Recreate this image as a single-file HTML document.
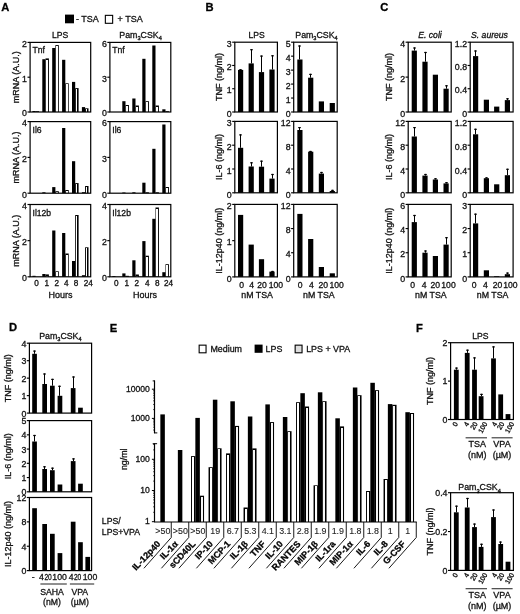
<!DOCTYPE html>
<html><head><meta charset="utf-8"><title>Figure</title>
<style>
html,body{margin:0;padding:0;background:#fff;}
body{width:520px;height:614px;overflow:hidden;}
svg{display:block;font-family:"Liberation Sans",Arial,Helvetica,sans-serif;filter:blur(0.35px);}
text{stroke:#111;stroke-width:0.3px;paint-order:stroke;}
</style></head>
<body>
<svg width="520" height="614" viewBox="0 0 520 614" fill="#111">
<rect width="520" height="614" fill="#fff"/>
<text x="1.3" y="11.3" font-size="11.2" font-weight="bold" fill="#000">A</text>
<text x="205.4" y="11.3" font-size="11.2" font-weight="bold" fill="#000">B</text>
<text x="380.3" y="11.3" font-size="11.2" font-weight="bold" fill="#000">C</text>
<text x="9" y="331.4" font-size="11.2" font-weight="bold" fill="#000">D</text>
<text x="109.8" y="331.6" font-size="11.2" font-weight="bold" fill="#000">E</text>
<text x="416" y="331.6" font-size="11.2" font-weight="bold" fill="#000">F</text>
<rect x="65" y="14.6" width="9" height="8.7" fill="#000"/>
<text x="76" y="22.4" font-size="9">- TSA</text>
<rect x="105.35" y="15.35" width="7.3" height="7.95" fill="#fff" stroke="#000" stroke-width="1.1"/>
<text x="117.6" y="22.4" font-size="9">+ TSA</text>
<text x="60.2" y="37.9" font-size="8.6" text-anchor="middle">LPS</text>
<text x="140.6" y="37.8" font-size="8.8" text-anchor="middle">Pam<tspan font-size="5.63" dy="2.3">3</tspan><tspan dy="-2.3">CSK</tspan><tspan font-size="5.63" dy="2.3">4</tspan></text>
<rect x="32.4" y="111" width="3.2" height="1" fill="#000"/>
<rect x="35.6" y="111.2" width="3.4" height="0.8" fill="#000"/>
<rect x="42.3" y="59.2" width="3.2" height="52.8" fill="#000"/>
<rect x="45.5" y="58.4" width="3.4" height="53.6" fill="#000"/>
<rect x="46" y="60" width="2" height="52" fill="#fff"/>
<rect x="52.2" y="48" width="3.2" height="64" fill="#000"/>
<rect x="55.4" y="45.1" width="3.4" height="66.9" fill="#000"/>
<rect x="56" y="46" width="2" height="66" fill="#fff"/>
<rect x="62.1" y="59.8" width="3.2" height="52.2" fill="#000"/>
<rect x="65.3" y="83.3" width="3.4" height="28.7" fill="#000"/>
<rect x="66" y="84" width="2" height="28" fill="#fff"/>
<rect x="72" y="81.9" width="3.2" height="30.1" fill="#000"/>
<rect x="75.2" y="88.1" width="3.4" height="23.9" fill="#000"/>
<rect x="76" y="89" width="1" height="23" fill="#fff"/>
<rect x="81.9" y="107.1" width="3.2" height="4.9" fill="#000"/>
<rect x="85.1" y="108.3" width="3.4" height="3.7" fill="#000"/>
<rect x="86" y="109" width="1" height="3" fill="#fff"/>
<rect x="30.1" y="42.4" width="60.6" height="69.6" fill="none" stroke="#000" stroke-width="1.2"/>
<line x1="27.5" y1="112" x2="30.1" y2="112" stroke="#000" stroke-width="1.15"/>
<text x="27" y="116.35" font-size="8.8" text-anchor="end">0</text>
<line x1="27.5" y1="77.2" x2="30.1" y2="77.2" stroke="#000" stroke-width="1.15"/>
<text x="27" y="81.55" font-size="8.8" text-anchor="end">1</text>
<line x1="27.5" y1="42.4" x2="30.1" y2="42.4" stroke="#000" stroke-width="1.15"/>
<text x="27" y="46.75" font-size="8.8" text-anchor="end">2</text>
<text x="32.5" y="52.6" font-size="8.6">Tnf</text>
<rect x="122.3" y="101.2" width="3.2" height="10.8" fill="#000"/>
<rect x="125.5" y="105" width="3.4" height="7" fill="#000"/>
<rect x="126" y="106" width="2" height="6" fill="#fff"/>
<rect x="132.3" y="98.5" width="3.2" height="13.5" fill="#000"/>
<rect x="135.5" y="105.5" width="3.4" height="6.5" fill="#000"/>
<rect x="136" y="107" width="2" height="5" fill="#fff"/>
<rect x="142.3" y="58.8" width="3.2" height="53.2" fill="#000"/>
<rect x="145.5" y="101.2" width="3.4" height="10.8" fill="#000"/>
<rect x="146" y="102" width="2" height="10" fill="#fff"/>
<rect x="152.3" y="45.5" width="3.2" height="66.5" fill="#000"/>
<rect x="155.5" y="105.5" width="3.4" height="6.5" fill="#000"/>
<rect x="156" y="107" width="2" height="5" fill="#fff"/>
<rect x="162.3" y="109.3" width="3.2" height="2.7" fill="#000"/>
<rect x="165.5" y="111.2" width="3.4" height="0.8" fill="#000"/>
<rect x="109.9" y="42.4" width="60.9" height="69.6" fill="none" stroke="#000" stroke-width="1.2"/>
<line x1="107.3" y1="112" x2="109.9" y2="112" stroke="#000" stroke-width="1.15"/>
<text x="106.8" y="116.35" font-size="8.8" text-anchor="end">0</text>
<line x1="107.3" y1="77.2" x2="109.9" y2="77.2" stroke="#000" stroke-width="1.15"/>
<text x="106.8" y="81.55" font-size="8.8" text-anchor="end">3</text>
<line x1="107.3" y1="42.4" x2="109.9" y2="42.4" stroke="#000" stroke-width="1.15"/>
<text x="106.8" y="46.75" font-size="8.8" text-anchor="end">6</text>
<text x="112.3" y="52.6" font-size="8.6">Tnf</text>
<text x="18.6" y="77.2" font-size="9" text-anchor="middle" transform="rotate(-90 18.6 77.2)">mRNA (A.U.)</text>
<rect x="42.3" y="192.3" width="3.2" height="0.9" fill="#000"/>
<rect x="52.2" y="187.1" width="3.2" height="6.1" fill="#000"/>
<rect x="55.4" y="191.2" width="3.4" height="2" fill="#000"/>
<rect x="56" y="192" width="2" height="1.2" fill="#fff"/>
<rect x="62.1" y="128" width="3.2" height="65.2" fill="#000"/>
<rect x="65.3" y="190" width="3.4" height="3.2" fill="#000"/>
<rect x="66" y="191" width="2" height="2.2" fill="#fff"/>
<rect x="72" y="161.2" width="3.2" height="32" fill="#000"/>
<rect x="75.2" y="183.1" width="3.4" height="10.1" fill="#000"/>
<rect x="76" y="184" width="1" height="9.2" fill="#fff"/>
<rect x="81.9" y="192.2" width="3.2" height="1" fill="#000"/>
<rect x="85.1" y="186" width="3.4" height="7.2" fill="#000"/>
<rect x="86" y="187" width="1" height="6.2" fill="#fff"/>
<rect x="30.1" y="121.6" width="60.6" height="71.6" fill="none" stroke="#000" stroke-width="1.2"/>
<line x1="27.5" y1="193.2" x2="30.1" y2="193.2" stroke="#000" stroke-width="1.15"/>
<text x="27" y="197.55" font-size="8.8" text-anchor="end">0</text>
<line x1="27.5" y1="157.4" x2="30.1" y2="157.4" stroke="#000" stroke-width="1.15"/>
<text x="27" y="161.75" font-size="8.8" text-anchor="end">2</text>
<line x1="27.5" y1="121.6" x2="30.1" y2="121.6" stroke="#000" stroke-width="1.15"/>
<text x="27" y="125.95" font-size="8.8" text-anchor="end">4</text>
<text x="32.5" y="133.1" font-size="8.6">Il6</text>
<rect x="122.3" y="192.5" width="3.2" height="0.7" fill="#000"/>
<rect x="132.3" y="192.3" width="3.2" height="0.9" fill="#000"/>
<rect x="142.3" y="182.7" width="3.2" height="10.5" fill="#000"/>
<rect x="145.5" y="192.3" width="3.4" height="0.9" fill="#000"/>
<rect x="152.3" y="148.8" width="3.2" height="44.4" fill="#000"/>
<rect x="155.5" y="192.3" width="3.4" height="0.9" fill="#000"/>
<rect x="162.3" y="124.5" width="3.2" height="68.7" fill="#000"/>
<rect x="165.5" y="187" width="3.4" height="6.2" fill="#000"/>
<rect x="166" y="188" width="2" height="5.2" fill="#fff"/>
<rect x="109.9" y="121.6" width="60.9" height="71.6" fill="none" stroke="#000" stroke-width="1.2"/>
<line x1="107.3" y1="193.2" x2="109.9" y2="193.2" stroke="#000" stroke-width="1.15"/>
<text x="106.8" y="197.55" font-size="8.8" text-anchor="end">0</text>
<line x1="107.3" y1="157.4" x2="109.9" y2="157.4" stroke="#000" stroke-width="1.15"/>
<text x="106.8" y="161.75" font-size="8.8" text-anchor="end">3</text>
<line x1="107.3" y1="121.6" x2="109.9" y2="121.6" stroke="#000" stroke-width="1.15"/>
<text x="106.8" y="125.95" font-size="8.8" text-anchor="end">6</text>
<text x="112.3" y="133.1" font-size="8.6">Il6</text>
<text x="18.6" y="157.4" font-size="9" text-anchor="middle" transform="rotate(-90 18.6 157.4)">mRNA (A.U.)</text>
<rect x="32.4" y="275.8" width="3.2" height="1" fill="#000"/>
<rect x="42.3" y="274" width="3.2" height="2.8" fill="#000"/>
<rect x="45.5" y="274.4" width="3.4" height="2.4" fill="#000"/>
<rect x="46" y="276" width="2" height="0.8" fill="#fff"/>
<rect x="52.2" y="230.5" width="3.2" height="46.3" fill="#000"/>
<rect x="55.4" y="271.3" width="3.4" height="5.5" fill="#000"/>
<rect x="56" y="272" width="2" height="4.8" fill="#fff"/>
<rect x="62.1" y="233" width="3.2" height="43.8" fill="#000"/>
<rect x="65.3" y="253.5" width="3.4" height="23.3" fill="#000"/>
<rect x="66" y="255" width="2" height="21.8" fill="#fff"/>
<rect x="72" y="261" width="3.2" height="15.8" fill="#000"/>
<rect x="75.2" y="215" width="3.4" height="61.8" fill="#000"/>
<rect x="76" y="216" width="1" height="60.8" fill="#fff"/>
<rect x="81.9" y="275.2" width="3.2" height="1.6" fill="#000"/>
<rect x="85.1" y="247.3" width="3.4" height="29.5" fill="#000"/>
<rect x="86" y="248" width="1" height="28.8" fill="#fff"/>
<rect x="30.1" y="204.5" width="60.6" height="72.3" fill="none" stroke="#000" stroke-width="1.2"/>
<line x1="27.5" y1="276.8" x2="30.1" y2="276.8" stroke="#000" stroke-width="1.15"/>
<text x="27" y="281.15" font-size="8.8" text-anchor="end">0</text>
<line x1="27.5" y1="240.65" x2="30.1" y2="240.65" stroke="#000" stroke-width="1.15"/>
<text x="27" y="245" font-size="8.8" text-anchor="end">2</text>
<line x1="27.5" y1="204.5" x2="30.1" y2="204.5" stroke="#000" stroke-width="1.15"/>
<text x="27" y="208.85" font-size="8.8" text-anchor="end">4</text>
<text x="32.5" y="215.8" font-size="8.6">Il12b</text>
<rect x="112.3" y="276" width="3.2" height="0.8" fill="#000"/>
<rect x="122.3" y="273.4" width="3.2" height="3.4" fill="#000"/>
<rect x="125.5" y="275.8" width="3.4" height="1" fill="#000"/>
<rect x="132.3" y="260.3" width="3.2" height="16.5" fill="#000"/>
<rect x="135.5" y="274.5" width="3.4" height="2.3" fill="#000"/>
<rect x="136" y="276" width="2" height="0.8" fill="#fff"/>
<rect x="142.3" y="241.1" width="3.2" height="35.7" fill="#000"/>
<rect x="145.5" y="255.7" width="3.4" height="21.1" fill="#000"/>
<rect x="146" y="257" width="2" height="19.8" fill="#fff"/>
<rect x="152.3" y="218.8" width="3.2" height="58" fill="#000"/>
<rect x="155.5" y="207.5" width="3.4" height="69.3" fill="#000"/>
<rect x="156" y="209" width="2" height="67.8" fill="#fff"/>
<rect x="162.3" y="272.2" width="3.2" height="4.6" fill="#000"/>
<rect x="165.5" y="264.2" width="3.4" height="12.6" fill="#000"/>
<rect x="166" y="265" width="2" height="11.8" fill="#fff"/>
<rect x="109.9" y="204.5" width="60.9" height="72.3" fill="none" stroke="#000" stroke-width="1.2"/>
<line x1="107.3" y1="276.8" x2="109.9" y2="276.8" stroke="#000" stroke-width="1.15"/>
<text x="106.8" y="281.15" font-size="8.8" text-anchor="end">0</text>
<line x1="107.3" y1="240.65" x2="109.9" y2="240.65" stroke="#000" stroke-width="1.15"/>
<text x="106.8" y="245" font-size="8.8" text-anchor="end">2</text>
<line x1="107.3" y1="204.5" x2="109.9" y2="204.5" stroke="#000" stroke-width="1.15"/>
<text x="106.8" y="208.85" font-size="8.8" text-anchor="end">4</text>
<text x="112.3" y="215.8" font-size="8.6">Il12b</text>
<text x="18.6" y="240.65" font-size="9" text-anchor="middle" transform="rotate(-90 18.6 240.65)">mRNA (A.U.)</text>
<text x="36.45" y="286.2" font-size="8.2" text-anchor="middle">0</text>
<text x="46.9" y="286.2" font-size="8.2" text-anchor="middle">1</text>
<text x="56.75" y="286.2" font-size="8.2" text-anchor="middle">2</text>
<text x="66.35" y="286.2" font-size="8.2" text-anchor="middle">4</text>
<text x="76.15" y="286.2" font-size="8.2" text-anchor="middle">8</text>
<text x="88.25" y="286.2" font-size="8.2" text-anchor="middle">24</text>
<text x="116.35" y="286.2" font-size="8.2" text-anchor="middle">0</text>
<text x="126.9" y="286.2" font-size="8.2" text-anchor="middle">1</text>
<text x="136.75" y="286.2" font-size="8.2" text-anchor="middle">2</text>
<text x="147.25" y="286.2" font-size="8.2" text-anchor="middle">4</text>
<text x="157.3" y="286.2" font-size="8.2" text-anchor="middle">8</text>
<text x="168.6" y="286.2" font-size="8.2" text-anchor="middle">24</text>
<text x="60.6" y="298.3" font-size="9" text-anchor="middle">Hours</text>
<text x="145.1" y="298.3" font-size="9" text-anchor="middle">Hours</text>
<rect x="238" y="69.9" width="5.2" height="42.1" fill="#000"/>
<line x1="240.5" y1="69.9" x2="240.5" y2="69.2" stroke="#000" stroke-width="1.05"/>
<line x1="239.2" y1="69.8" x2="241.8" y2="69.8" stroke="#000" stroke-width="1.2"/>
<rect x="248.6" y="63.4" width="5.2" height="48.6" fill="#000"/>
<line x1="251.5" y1="63.4" x2="251.5" y2="49.1" stroke="#000" stroke-width="1.05"/>
<line x1="250.2" y1="49.7" x2="252.8" y2="49.7" stroke="#000" stroke-width="1.2"/>
<rect x="258.9" y="72.1" width="5.2" height="39.9" fill="#000"/>
<line x1="261.5" y1="72.1" x2="261.5" y2="55.5" stroke="#000" stroke-width="1.05"/>
<line x1="260.2" y1="56.1" x2="262.8" y2="56.1" stroke="#000" stroke-width="1.2"/>
<rect x="269.4" y="69.5" width="5.2" height="42.5" fill="#000"/>
<line x1="272.5" y1="69.5" x2="272.5" y2="55.2" stroke="#000" stroke-width="1.05"/>
<line x1="271.2" y1="55.8" x2="273.8" y2="55.8" stroke="#000" stroke-width="1.2"/>
<rect x="234.8" y="42.2" width="42.6" height="69.8" fill="none" stroke="#000" stroke-width="1.2"/>
<line x1="232.2" y1="112" x2="234.8" y2="112" stroke="#000" stroke-width="1.15"/>
<text x="231.7" y="116.75" font-size="8.8" text-anchor="end">0</text>
<line x1="232.2" y1="88.73" x2="234.8" y2="88.73" stroke="#000" stroke-width="1.15"/>
<text x="231.7" y="93.48" font-size="8.8" text-anchor="end">1</text>
<line x1="232.2" y1="65.47" x2="234.8" y2="65.47" stroke="#000" stroke-width="1.15"/>
<text x="231.7" y="70.22" font-size="8.8" text-anchor="end">2</text>
<line x1="232.2" y1="42.2" x2="234.8" y2="42.2" stroke="#000" stroke-width="1.15"/>
<text x="231.7" y="46.95" font-size="8.8" text-anchor="end">3</text>
<rect x="297.3" y="59.5" width="5.2" height="52.5" fill="#000"/>
<line x1="299.5" y1="59.5" x2="299.5" y2="45.4" stroke="#000" stroke-width="1.05"/>
<line x1="298.2" y1="46" x2="300.8" y2="46" stroke="#000" stroke-width="1.2"/>
<rect x="308.1" y="77.7" width="5.2" height="34.3" fill="#000"/>
<line x1="310.5" y1="77.7" x2="310.5" y2="73.8" stroke="#000" stroke-width="1.05"/>
<line x1="309.2" y1="74.4" x2="311.8" y2="74.4" stroke="#000" stroke-width="1.2"/>
<rect x="318.8" y="101.4" width="5.2" height="10.6" fill="#000"/>
<rect x="329.7" y="103" width="5.2" height="9" fill="#000"/>
<rect x="293.7" y="42.2" width="43.5" height="69.8" fill="none" stroke="#000" stroke-width="1.2"/>
<line x1="291.1" y1="112" x2="293.7" y2="112" stroke="#000" stroke-width="1.15"/>
<text x="290.6" y="116.75" font-size="8.8" text-anchor="end">0</text>
<line x1="291.1" y1="98.04" x2="293.7" y2="98.04" stroke="#000" stroke-width="1.15"/>
<text x="290.6" y="102.79" font-size="8.8" text-anchor="end">1</text>
<line x1="291.1" y1="84.08" x2="293.7" y2="84.08" stroke="#000" stroke-width="1.15"/>
<text x="290.6" y="88.83" font-size="8.8" text-anchor="end">2</text>
<line x1="291.1" y1="70.12" x2="293.7" y2="70.12" stroke="#000" stroke-width="1.15"/>
<text x="290.6" y="74.87" font-size="8.8" text-anchor="end">3</text>
<line x1="291.1" y1="56.16" x2="293.7" y2="56.16" stroke="#000" stroke-width="1.15"/>
<text x="290.6" y="60.91" font-size="8.8" text-anchor="end">4</text>
<line x1="291.1" y1="42.2" x2="293.7" y2="42.2" stroke="#000" stroke-width="1.15"/>
<text x="290.6" y="46.95" font-size="8.8" text-anchor="end">5</text>
<rect x="411.7" y="50.6" width="5.2" height="61.4" fill="#000"/>
<line x1="414.5" y1="50.6" x2="414.5" y2="47.4" stroke="#000" stroke-width="1.05"/>
<line x1="413.2" y1="48" x2="415.8" y2="48" stroke="#000" stroke-width="1.2"/>
<rect x="422.4" y="61.7" width="5.2" height="50.3" fill="#000"/>
<line x1="425.5" y1="61.7" x2="425.5" y2="51.9" stroke="#000" stroke-width="1.05"/>
<line x1="424.2" y1="52.5" x2="426.8" y2="52.5" stroke="#000" stroke-width="1.2"/>
<rect x="432.8" y="74.7" width="5.2" height="37.3" fill="#000"/>
<rect x="443.5" y="88.7" width="5.2" height="23.3" fill="#000"/>
<line x1="446.5" y1="88.7" x2="446.5" y2="85.2" stroke="#000" stroke-width="1.05"/>
<line x1="445.2" y1="85.8" x2="447.8" y2="85.8" stroke="#000" stroke-width="1.2"/>
<rect x="408.2" y="42.2" width="43" height="69.8" fill="none" stroke="#000" stroke-width="1.2"/>
<line x1="405.6" y1="112" x2="408.2" y2="112" stroke="#000" stroke-width="1.15"/>
<text x="405.1" y="116.75" font-size="8.8" text-anchor="end">0</text>
<line x1="405.6" y1="77.1" x2="408.2" y2="77.1" stroke="#000" stroke-width="1.15"/>
<text x="405.1" y="81.85" font-size="8.8" text-anchor="end">2</text>
<line x1="405.6" y1="42.2" x2="408.2" y2="42.2" stroke="#000" stroke-width="1.15"/>
<text x="405.1" y="46.95" font-size="8.8" text-anchor="end">4</text>
<rect x="473" y="56.1" width="5.2" height="55.9" fill="#000"/>
<line x1="475.5" y1="56.1" x2="475.5" y2="50.4" stroke="#000" stroke-width="1.05"/>
<line x1="474.2" y1="51" x2="476.8" y2="51" stroke="#000" stroke-width="1.2"/>
<rect x="483.8" y="99.7" width="5.2" height="12.3" fill="#000"/>
<rect x="494.1" y="106.6" width="5.2" height="5.4" fill="#000"/>
<rect x="504.8" y="100.1" width="5.2" height="11.9" fill="#000"/>
<line x1="507.5" y1="100.1" x2="507.5" y2="98.2" stroke="#000" stroke-width="1.05"/>
<line x1="506.2" y1="98.8" x2="508.8" y2="98.8" stroke="#000" stroke-width="1.2"/>
<rect x="470.2" y="42.2" width="42.9" height="69.8" fill="none" stroke="#000" stroke-width="1.2"/>
<line x1="467.6" y1="112" x2="470.2" y2="112" stroke="#000" stroke-width="1.15"/>
<text x="467.1" y="116.75" font-size="8.8" text-anchor="end">0</text>
<line x1="467.6" y1="88.73" x2="470.2" y2="88.73" stroke="#000" stroke-width="1.15"/>
<text x="467.1" y="93.48" font-size="8.8" text-anchor="end">0.4</text>
<line x1="467.6" y1="65.47" x2="470.2" y2="65.47" stroke="#000" stroke-width="1.15"/>
<text x="467.1" y="70.22" font-size="8.8" text-anchor="end">0.8</text>
<line x1="467.6" y1="42.2" x2="470.2" y2="42.2" stroke="#000" stroke-width="1.15"/>
<text x="467.1" y="46.95" font-size="8.8" text-anchor="end">1.2</text>
<rect x="238" y="147.8" width="5.2" height="45" fill="#000"/>
<line x1="240.5" y1="147.8" x2="240.5" y2="134.3" stroke="#000" stroke-width="1.05"/>
<line x1="239.2" y1="134.9" x2="241.8" y2="134.9" stroke="#000" stroke-width="1.2"/>
<rect x="248.6" y="166.5" width="5.2" height="26.3" fill="#000"/>
<line x1="251.5" y1="166.5" x2="251.5" y2="162.2" stroke="#000" stroke-width="1.05"/>
<line x1="250.2" y1="162.8" x2="252.8" y2="162.8" stroke="#000" stroke-width="1.2"/>
<rect x="258.9" y="166.7" width="5.2" height="26.1" fill="#000"/>
<line x1="261.5" y1="166.7" x2="261.5" y2="160.6" stroke="#000" stroke-width="1.05"/>
<line x1="260.2" y1="161.2" x2="262.8" y2="161.2" stroke="#000" stroke-width="1.2"/>
<rect x="269.4" y="178.6" width="5.2" height="14.2" fill="#000"/>
<line x1="272.5" y1="178.6" x2="272.5" y2="173.9" stroke="#000" stroke-width="1.05"/>
<line x1="271.2" y1="174.5" x2="273.8" y2="174.5" stroke="#000" stroke-width="1.2"/>
<rect x="234.8" y="121.4" width="42.6" height="71.4" fill="none" stroke="#000" stroke-width="1.2"/>
<line x1="232.2" y1="192.8" x2="234.8" y2="192.8" stroke="#000" stroke-width="1.15"/>
<text x="231.7" y="197.55" font-size="8.8" text-anchor="end">0</text>
<line x1="232.2" y1="169" x2="234.8" y2="169" stroke="#000" stroke-width="1.15"/>
<text x="231.7" y="173.75" font-size="8.8" text-anchor="end">1</text>
<line x1="232.2" y1="145.2" x2="234.8" y2="145.2" stroke="#000" stroke-width="1.15"/>
<text x="231.7" y="149.95" font-size="8.8" text-anchor="end">2</text>
<line x1="232.2" y1="121.4" x2="234.8" y2="121.4" stroke="#000" stroke-width="1.15"/>
<text x="231.7" y="126.15" font-size="8.8" text-anchor="end">3</text>
<rect x="297.3" y="130" width="5.2" height="62.8" fill="#000"/>
<line x1="299.5" y1="130" x2="299.5" y2="127" stroke="#000" stroke-width="1.05"/>
<line x1="298.2" y1="127.6" x2="300.8" y2="127.6" stroke="#000" stroke-width="1.2"/>
<rect x="308.1" y="151.7" width="5.2" height="41.1" fill="#000"/>
<line x1="310.5" y1="151.7" x2="310.5" y2="150.9" stroke="#000" stroke-width="1.05"/>
<line x1="309.2" y1="151.5" x2="311.8" y2="151.5" stroke="#000" stroke-width="1.2"/>
<rect x="318.8" y="173.6" width="5.2" height="19.2" fill="#000"/>
<line x1="321.5" y1="173.6" x2="321.5" y2="171.9" stroke="#000" stroke-width="1.05"/>
<line x1="320.2" y1="172.5" x2="322.8" y2="172.5" stroke="#000" stroke-width="1.2"/>
<rect x="329.7" y="191" width="5.2" height="1.8" fill="#000"/>
<line x1="332.5" y1="191" x2="332.5" y2="189.8" stroke="#000" stroke-width="1.05"/>
<line x1="331.2" y1="190.4" x2="333.8" y2="190.4" stroke="#000" stroke-width="1.2"/>
<rect x="293.7" y="121.4" width="43.5" height="71.4" fill="none" stroke="#000" stroke-width="1.2"/>
<line x1="291.1" y1="192.8" x2="293.7" y2="192.8" stroke="#000" stroke-width="1.15"/>
<text x="290.6" y="197.55" font-size="8.8" text-anchor="end">0</text>
<line x1="291.1" y1="169" x2="293.7" y2="169" stroke="#000" stroke-width="1.15"/>
<text x="290.6" y="173.75" font-size="8.8" text-anchor="end">4</text>
<line x1="291.1" y1="145.2" x2="293.7" y2="145.2" stroke="#000" stroke-width="1.15"/>
<text x="290.6" y="149.95" font-size="8.8" text-anchor="end">8</text>
<line x1="291.1" y1="121.4" x2="293.7" y2="121.4" stroke="#000" stroke-width="1.15"/>
<text x="290.6" y="126.15" font-size="8.8" text-anchor="end">12</text>
<rect x="411.7" y="136.5" width="5.2" height="56.3" fill="#000"/>
<line x1="414.5" y1="136.5" x2="414.5" y2="127" stroke="#000" stroke-width="1.05"/>
<line x1="413.2" y1="127.6" x2="415.8" y2="127.6" stroke="#000" stroke-width="1.2"/>
<rect x="422.4" y="175.6" width="5.2" height="17.2" fill="#000"/>
<line x1="425.5" y1="175.6" x2="425.5" y2="173.9" stroke="#000" stroke-width="1.05"/>
<line x1="424.2" y1="174.5" x2="426.8" y2="174.5" stroke="#000" stroke-width="1.2"/>
<rect x="432.8" y="179.5" width="5.2" height="13.3" fill="#000"/>
<line x1="435.5" y1="179.5" x2="435.5" y2="178.2" stroke="#000" stroke-width="1.05"/>
<line x1="434.2" y1="178.8" x2="436.8" y2="178.8" stroke="#000" stroke-width="1.2"/>
<rect x="443.5" y="183.4" width="5.2" height="9.4" fill="#000"/>
<line x1="446.5" y1="183.4" x2="446.5" y2="182.1" stroke="#000" stroke-width="1.05"/>
<line x1="445.2" y1="182.7" x2="447.8" y2="182.7" stroke="#000" stroke-width="1.2"/>
<rect x="408.2" y="121.4" width="43" height="71.4" fill="none" stroke="#000" stroke-width="1.2"/>
<line x1="405.6" y1="192.8" x2="408.2" y2="192.8" stroke="#000" stroke-width="1.15"/>
<text x="405.1" y="197.55" font-size="8.8" text-anchor="end">0</text>
<line x1="405.6" y1="169" x2="408.2" y2="169" stroke="#000" stroke-width="1.15"/>
<text x="405.1" y="173.75" font-size="8.8" text-anchor="end">4</text>
<line x1="405.6" y1="145.2" x2="408.2" y2="145.2" stroke="#000" stroke-width="1.15"/>
<text x="405.1" y="149.95" font-size="8.8" text-anchor="end">8</text>
<line x1="405.6" y1="121.4" x2="408.2" y2="121.4" stroke="#000" stroke-width="1.15"/>
<text x="405.1" y="126.15" font-size="8.8" text-anchor="end">12</text>
<rect x="473" y="134.3" width="5.2" height="58.5" fill="#000"/>
<line x1="475.5" y1="134.3" x2="475.5" y2="128.7" stroke="#000" stroke-width="1.05"/>
<line x1="474.2" y1="129.3" x2="476.8" y2="129.3" stroke="#000" stroke-width="1.2"/>
<rect x="483.8" y="178.2" width="5.2" height="14.6" fill="#000"/>
<line x1="486.5" y1="178.2" x2="486.5" y2="177.3" stroke="#000" stroke-width="1.05"/>
<line x1="485.2" y1="177.9" x2="487.8" y2="177.9" stroke="#000" stroke-width="1.2"/>
<rect x="494.1" y="184.3" width="5.2" height="8.5" fill="#000"/>
<rect x="504.8" y="175.2" width="5.2" height="17.6" fill="#000"/>
<line x1="507.5" y1="175.2" x2="507.5" y2="168.7" stroke="#000" stroke-width="1.05"/>
<line x1="506.2" y1="169.3" x2="508.8" y2="169.3" stroke="#000" stroke-width="1.2"/>
<rect x="470.2" y="121.4" width="42.9" height="71.4" fill="none" stroke="#000" stroke-width="1.2"/>
<line x1="467.6" y1="192.8" x2="470.2" y2="192.8" stroke="#000" stroke-width="1.15"/>
<text x="467.1" y="197.55" font-size="8.8" text-anchor="end">0</text>
<line x1="467.6" y1="169" x2="470.2" y2="169" stroke="#000" stroke-width="1.15"/>
<text x="467.1" y="173.75" font-size="8.8" text-anchor="end">0.4</text>
<line x1="467.6" y1="145.2" x2="470.2" y2="145.2" stroke="#000" stroke-width="1.15"/>
<text x="467.1" y="149.95" font-size="8.8" text-anchor="end">0.8</text>
<line x1="467.6" y1="121.4" x2="470.2" y2="121.4" stroke="#000" stroke-width="1.15"/>
<text x="467.1" y="126.15" font-size="8.8" text-anchor="end">1.2</text>
<rect x="238" y="214.9" width="5.2" height="62" fill="#000"/>
<rect x="248.6" y="244.6" width="5.2" height="32.3" fill="#000"/>
<rect x="258.9" y="259.2" width="5.2" height="17.7" fill="#000"/>
<rect x="269.4" y="271.6" width="5.2" height="5.3" fill="#000"/>
<line x1="272.5" y1="271.6" x2="272.5" y2="270.9" stroke="#000" stroke-width="1.05"/>
<line x1="271.2" y1="271.5" x2="273.8" y2="271.5" stroke="#000" stroke-width="1.2"/>
<rect x="234.8" y="204.4" width="42.6" height="72.5" fill="none" stroke="#000" stroke-width="1.2"/>
<line x1="232.2" y1="276.9" x2="234.8" y2="276.9" stroke="#000" stroke-width="1.15"/>
<text x="231.7" y="281.65" font-size="8.8" text-anchor="end">0</text>
<line x1="232.2" y1="240.65" x2="234.8" y2="240.65" stroke="#000" stroke-width="1.15"/>
<text x="231.7" y="245.4" font-size="8.8" text-anchor="end">1</text>
<line x1="232.2" y1="204.4" x2="234.8" y2="204.4" stroke="#000" stroke-width="1.15"/>
<text x="231.7" y="209.15" font-size="8.8" text-anchor="end">2</text>
<rect x="297.3" y="213.9" width="5.2" height="63" fill="#000"/>
<rect x="308.1" y="239" width="5.2" height="37.9" fill="#000"/>
<rect x="318.8" y="267" width="5.2" height="9.9" fill="#000"/>
<rect x="329.7" y="273.3" width="5.2" height="3.6" fill="#000"/>
<rect x="293.7" y="204.4" width="43.5" height="72.5" fill="none" stroke="#000" stroke-width="1.2"/>
<line x1="291.1" y1="276.9" x2="293.7" y2="276.9" stroke="#000" stroke-width="1.15"/>
<text x="290.6" y="281.65" font-size="8.8" text-anchor="end">0</text>
<line x1="291.1" y1="252.73" x2="293.7" y2="252.73" stroke="#000" stroke-width="1.15"/>
<text x="290.6" y="257.48" font-size="8.8" text-anchor="end">4</text>
<line x1="291.1" y1="228.57" x2="293.7" y2="228.57" stroke="#000" stroke-width="1.15"/>
<text x="290.6" y="233.32" font-size="8.8" text-anchor="end">8</text>
<line x1="291.1" y1="204.4" x2="293.7" y2="204.4" stroke="#000" stroke-width="1.15"/>
<text x="290.6" y="209.15" font-size="8.8" text-anchor="end">12</text>
<rect x="411.7" y="222.1" width="5.2" height="54.8" fill="#000"/>
<line x1="414.5" y1="222.1" x2="414.5" y2="214.9" stroke="#000" stroke-width="1.05"/>
<line x1="413.2" y1="215.5" x2="415.8" y2="215.5" stroke="#000" stroke-width="1.2"/>
<rect x="422.4" y="252.7" width="5.2" height="24.2" fill="#000"/>
<line x1="425.5" y1="252.7" x2="425.5" y2="250.4" stroke="#000" stroke-width="1.05"/>
<line x1="424.2" y1="251" x2="426.8" y2="251" stroke="#000" stroke-width="1.2"/>
<rect x="432.8" y="256" width="5.2" height="20.9" fill="#000"/>
<rect x="443.5" y="244.6" width="5.2" height="32.3" fill="#000"/>
<line x1="446.5" y1="244.6" x2="446.5" y2="237.1" stroke="#000" stroke-width="1.05"/>
<line x1="445.2" y1="237.7" x2="447.8" y2="237.7" stroke="#000" stroke-width="1.2"/>
<rect x="408.2" y="204.4" width="43" height="72.5" fill="none" stroke="#000" stroke-width="1.2"/>
<line x1="405.6" y1="276.9" x2="408.2" y2="276.9" stroke="#000" stroke-width="1.15"/>
<text x="405.1" y="281.65" font-size="8.8" text-anchor="end">0</text>
<line x1="405.6" y1="252.73" x2="408.2" y2="252.73" stroke="#000" stroke-width="1.15"/>
<text x="405.1" y="257.48" font-size="8.8" text-anchor="end">2</text>
<line x1="405.6" y1="228.57" x2="408.2" y2="228.57" stroke="#000" stroke-width="1.15"/>
<text x="405.1" y="233.32" font-size="8.8" text-anchor="end">4</text>
<line x1="405.6" y1="204.4" x2="408.2" y2="204.4" stroke="#000" stroke-width="1.15"/>
<text x="405.1" y="209.15" font-size="8.8" text-anchor="end">6</text>
<rect x="473" y="223.4" width="5.2" height="53.5" fill="#000"/>
<line x1="475.5" y1="223.4" x2="475.5" y2="213.6" stroke="#000" stroke-width="1.05"/>
<line x1="474.2" y1="214.2" x2="476.8" y2="214.2" stroke="#000" stroke-width="1.2"/>
<rect x="483.8" y="270.3" width="5.2" height="6.6" fill="#000"/>
<rect x="494.1" y="276.2" width="5.2" height="0.7" fill="#000"/>
<rect x="504.8" y="274.2" width="5.2" height="2.7" fill="#000"/>
<line x1="507.5" y1="274.2" x2="507.5" y2="272.5" stroke="#000" stroke-width="1.05"/>
<line x1="506.2" y1="273.1" x2="508.8" y2="273.1" stroke="#000" stroke-width="1.2"/>
<rect x="470.2" y="204.4" width="42.9" height="72.5" fill="none" stroke="#000" stroke-width="1.2"/>
<line x1="467.6" y1="276.9" x2="470.2" y2="276.9" stroke="#000" stroke-width="1.15"/>
<text x="467.1" y="281.65" font-size="8.8" text-anchor="end">0</text>
<line x1="467.6" y1="252.73" x2="470.2" y2="252.73" stroke="#000" stroke-width="1.15"/>
<text x="467.1" y="257.48" font-size="8.8" text-anchor="end">1</text>
<line x1="467.6" y1="228.57" x2="470.2" y2="228.57" stroke="#000" stroke-width="1.15"/>
<text x="467.1" y="233.32" font-size="8.8" text-anchor="end">2</text>
<line x1="467.6" y1="204.4" x2="470.2" y2="204.4" stroke="#000" stroke-width="1.15"/>
<text x="467.1" y="209.15" font-size="8.8" text-anchor="end">3</text>
<text x="256.5" y="38.2" font-size="8.6" text-anchor="middle">LPS</text>
<text x="316.5" y="38" font-size="8.8" text-anchor="middle">Pam<tspan font-size="5.63" dy="2.3">3</tspan><tspan dy="-2.3">CSK</tspan><tspan font-size="5.63" dy="2.3">4</tspan></text>
<text x="430" y="38.2" font-size="8.6" text-anchor="middle" font-style="italic">E. coli</text>
<text x="489.5" y="38.2" font-size="8.6" text-anchor="middle" font-style="italic">S. aureus</text>
<text x="222" y="77.1" font-size="9" text-anchor="middle" transform="rotate(-90 222 77.1)">TNF (ng/ml)</text>
<text x="391.8" y="77.1" font-size="9" text-anchor="middle" transform="rotate(-90 391.8 77.1)">TNF (ng/ml)</text>
<text x="222" y="157.1" font-size="9" text-anchor="middle" transform="rotate(-90 222 157.1)">IL-6 (ng/ml)</text>
<text x="391.8" y="157.1" font-size="9" text-anchor="middle" transform="rotate(-90 391.8 157.1)">IL-6 (ng/ml)</text>
<text x="222" y="240.65" font-size="9" text-anchor="middle" transform="rotate(-90 222 240.65)">IL-12p40 (ng/ml)</text>
<text x="391.8" y="240.65" font-size="9" text-anchor="middle" transform="rotate(-90 391.8 240.65)">IL-12p40 (ng/ml)</text>
<text x="241.65" y="287.6" font-size="8.6" text-anchor="middle">0</text>
<text x="251.6" y="287.6" font-size="8.6" text-anchor="middle">4</text>
<text x="262" y="287.6" font-size="8.6" text-anchor="middle">20</text>
<text x="275.85" y="287.6" font-size="8.6" text-anchor="middle">100</text>
<text x="300.2" y="287.6" font-size="8.6" text-anchor="middle">0</text>
<text x="311.5" y="287.6" font-size="8.6" text-anchor="middle">4</text>
<text x="323.2" y="287.6" font-size="8.6" text-anchor="middle">20</text>
<text x="336.7" y="287.6" font-size="8.6" text-anchor="middle">100</text>
<text x="412.65" y="287.6" font-size="8.6" text-anchor="middle">0</text>
<text x="424.2" y="287.6" font-size="8.6" text-anchor="middle">4</text>
<text x="435.3" y="287.6" font-size="8.6" text-anchor="middle">20</text>
<text x="448.5" y="287.6" font-size="8.6" text-anchor="middle">100</text>
<text x="474.15" y="287.6" font-size="8.6" text-anchor="middle">0</text>
<text x="485.35" y="287.6" font-size="8.6" text-anchor="middle">4</text>
<text x="497.55" y="287.6" font-size="8.6" text-anchor="middle">20</text>
<text x="510.35" y="287.6" font-size="8.6" text-anchor="middle">100</text>
<text x="257.1" y="298.2" font-size="8.8" text-anchor="middle">nM TSA</text>
<text x="318.9" y="298.2" font-size="8.8" text-anchor="middle">nM TSA</text>
<text x="430.9" y="298.2" font-size="8.8" text-anchor="middle">nM TSA</text>
<text x="492.6" y="298.2" font-size="8.8" text-anchor="middle">nM TSA</text>
<text x="60.4" y="338.7" font-size="8.8" text-anchor="middle">Pam<tspan font-size="5.63" dy="2.3">3</tspan><tspan dy="-2.3">CSK</tspan><tspan font-size="5.63" dy="2.3">4</tspan></text>
<rect x="32.2" y="353.8" width="4.7" height="59.3" fill="#000"/>
<line x1="34.5" y1="353.8" x2="34.5" y2="350.5" stroke="#000" stroke-width="1.05"/>
<line x1="33.2" y1="351.1" x2="35.8" y2="351.1" stroke="#000" stroke-width="1.2"/>
<rect x="42.3" y="384" width="4.7" height="29.1" fill="#000"/>
<line x1="44.5" y1="384" x2="44.5" y2="373.4" stroke="#000" stroke-width="1.05"/>
<line x1="43.2" y1="374" x2="45.8" y2="374" stroke="#000" stroke-width="1.2"/>
<rect x="50" y="385.7" width="4.7" height="27.4" fill="#000"/>
<line x1="52.5" y1="385.7" x2="52.5" y2="378.8" stroke="#000" stroke-width="1.05"/>
<line x1="51.2" y1="379.4" x2="53.8" y2="379.4" stroke="#000" stroke-width="1.2"/>
<rect x="57.6" y="395.8" width="4.7" height="17.3" fill="#000"/>
<line x1="59.5" y1="395.8" x2="59.5" y2="385.7" stroke="#000" stroke-width="1.05"/>
<line x1="58.2" y1="386.3" x2="60.8" y2="386.3" stroke="#000" stroke-width="1.2"/>
<rect x="70.8" y="388.1" width="4.7" height="25" fill="#000"/>
<line x1="73.5" y1="388.1" x2="73.5" y2="376.4" stroke="#000" stroke-width="1.05"/>
<line x1="72.2" y1="377" x2="74.8" y2="377" stroke="#000" stroke-width="1.2"/>
<rect x="78.1" y="407.7" width="4.7" height="5.4" fill="#000"/>
<rect x="29.4" y="343.2" width="62.2" height="69.9" fill="none" stroke="#000" stroke-width="1.2"/>
<line x1="26.8" y1="413.1" x2="29.4" y2="413.1" stroke="#000" stroke-width="1.15"/>
<text x="26.3" y="416.55" font-size="8.8" text-anchor="end">0</text>
<line x1="26.8" y1="395.62" x2="29.4" y2="395.62" stroke="#000" stroke-width="1.15"/>
<text x="26.3" y="399.08" font-size="8.8" text-anchor="end">1</text>
<line x1="26.8" y1="378.15" x2="29.4" y2="378.15" stroke="#000" stroke-width="1.15"/>
<text x="26.3" y="381.6" font-size="8.8" text-anchor="end">2</text>
<line x1="26.8" y1="360.68" x2="29.4" y2="360.68" stroke="#000" stroke-width="1.15"/>
<text x="26.3" y="364.13" font-size="8.8" text-anchor="end">3</text>
<line x1="26.8" y1="343.2" x2="29.4" y2="343.2" stroke="#000" stroke-width="1.15"/>
<text x="26.3" y="346.65" font-size="8.8" text-anchor="end">4</text>
<text x="11" y="378.15" font-size="9" text-anchor="middle" transform="rotate(-90 11 378.15)">TNF (ng/ml)</text>
<rect x="32.2" y="441.5" width="4.7" height="50.3" fill="#000"/>
<line x1="34.5" y1="441.5" x2="34.5" y2="434.9" stroke="#000" stroke-width="1.05"/>
<line x1="33.2" y1="435.5" x2="35.8" y2="435.5" stroke="#000" stroke-width="1.2"/>
<rect x="42.3" y="469" width="4.7" height="22.8" fill="#000"/>
<line x1="44.5" y1="469" x2="44.5" y2="466.2" stroke="#000" stroke-width="1.05"/>
<line x1="43.2" y1="466.8" x2="45.8" y2="466.8" stroke="#000" stroke-width="1.2"/>
<rect x="50" y="470.2" width="4.7" height="21.6" fill="#000"/>
<line x1="52.5" y1="470.2" x2="52.5" y2="467.6" stroke="#000" stroke-width="1.05"/>
<line x1="51.2" y1="468.2" x2="53.8" y2="468.2" stroke="#000" stroke-width="1.2"/>
<rect x="57.6" y="484.5" width="4.7" height="7.3" fill="#000"/>
<rect x="70.8" y="461.1" width="4.7" height="30.7" fill="#000"/>
<line x1="73.5" y1="461.1" x2="73.5" y2="458.3" stroke="#000" stroke-width="1.05"/>
<line x1="72.2" y1="458.9" x2="74.8" y2="458.9" stroke="#000" stroke-width="1.2"/>
<rect x="78.1" y="483.7" width="4.7" height="8.1" fill="#000"/>
<rect x="29.4" y="420.6" width="62.2" height="71.2" fill="none" stroke="#000" stroke-width="1.2"/>
<line x1="26.8" y1="491.8" x2="29.4" y2="491.8" stroke="#000" stroke-width="1.15"/>
<text x="26.3" y="495.25" font-size="8.8" text-anchor="end">0</text>
<line x1="26.8" y1="477.56" x2="29.4" y2="477.56" stroke="#000" stroke-width="1.15"/>
<text x="26.3" y="481.01" font-size="8.8" text-anchor="end">1</text>
<line x1="26.8" y1="463.32" x2="29.4" y2="463.32" stroke="#000" stroke-width="1.15"/>
<text x="26.3" y="466.77" font-size="8.8" text-anchor="end">2</text>
<line x1="26.8" y1="449.08" x2="29.4" y2="449.08" stroke="#000" stroke-width="1.15"/>
<text x="26.3" y="452.53" font-size="8.8" text-anchor="end">3</text>
<line x1="26.8" y1="434.84" x2="29.4" y2="434.84" stroke="#000" stroke-width="1.15"/>
<text x="26.3" y="438.29" font-size="8.8" text-anchor="end">4</text>
<line x1="26.8" y1="420.6" x2="29.4" y2="420.6" stroke="#000" stroke-width="1.15"/>
<text x="26.3" y="424.05" font-size="8.8" text-anchor="end">5</text>
<text x="11" y="456.2" font-size="9" text-anchor="middle" transform="rotate(-90 11 456.2)">IL-6 (ng/ml)</text>
<rect x="32.2" y="508.2" width="4.7" height="62.4" fill="#000"/>
<rect x="42.3" y="524" width="4.7" height="46.6" fill="#000"/>
<rect x="50" y="533.8" width="4.7" height="36.8" fill="#000"/>
<rect x="57.6" y="553.1" width="4.7" height="17.5" fill="#000"/>
<rect x="70.8" y="521.7" width="4.7" height="48.9" fill="#000"/>
<rect x="78.1" y="542.2" width="4.7" height="28.4" fill="#000"/>
<rect x="85.4" y="556.9" width="4.7" height="13.7" fill="#000"/>
<rect x="29.4" y="497.5" width="62.2" height="73.1" fill="none" stroke="#000" stroke-width="1.2"/>
<line x1="26.8" y1="570.6" x2="29.4" y2="570.6" stroke="#000" stroke-width="1.15"/>
<text x="26.3" y="574.05" font-size="8.8" text-anchor="end">0</text>
<line x1="26.8" y1="546.23" x2="29.4" y2="546.23" stroke="#000" stroke-width="1.15"/>
<text x="26.3" y="549.68" font-size="8.8" text-anchor="end">4</text>
<line x1="26.8" y1="521.87" x2="29.4" y2="521.87" stroke="#000" stroke-width="1.15"/>
<text x="26.3" y="525.32" font-size="8.8" text-anchor="end">8</text>
<line x1="26.8" y1="497.5" x2="29.4" y2="497.5" stroke="#000" stroke-width="1.15"/>
<text x="26.3" y="500.95" font-size="8.8" text-anchor="end">12</text>
<text x="11" y="534.05" font-size="9" text-anchor="middle" transform="rotate(-90 11 534.05)">IL-12p40 (ng/ml)</text>
<text x="33.3" y="580.4" font-size="8.7" text-anchor="middle">-</text>
<text x="41.5" y="580.4" font-size="8.7" text-anchor="middle">4</text>
<text x="48.1" y="580.4" font-size="8.7" text-anchor="middle" textLength="7.4" lengthAdjust="spacingAndGlyphs">20</text>
<text x="59.6" y="580.4" font-size="8.7" text-anchor="middle">100</text>
<text x="71.1" y="580.4" font-size="8.7" text-anchor="middle">4</text>
<text x="77.6" y="580.4" font-size="8.7" text-anchor="middle" textLength="7.4" lengthAdjust="spacingAndGlyphs">20</text>
<text x="90" y="580.4" font-size="8.7" text-anchor="middle">100</text>
<line x1="40.4" y1="584" x2="66.8" y2="584" stroke="#333" stroke-width="1.1"/>
<line x1="69.9" y1="584" x2="94.2" y2="584" stroke="#333" stroke-width="1.1"/>
<text x="52" y="594.6" font-size="8.7" text-anchor="middle">SAHA</text>
<text x="79.8" y="594.6" font-size="8.7" text-anchor="middle">VPA</text>
<text x="52" y="605.2" font-size="8.7" text-anchor="middle">(nM)</text>
<text x="79.8" y="605.2" font-size="8.7" text-anchor="middle">(µM)</text>
<text x="480.4" y="338.9" font-size="8.6" text-anchor="middle">LPS</text>
<text x="479.6" y="490.2" font-size="8.8" text-anchor="middle">Pam<tspan font-size="5.63" dy="2.3">3</tspan><tspan dy="-2.3">CSK</tspan><tspan font-size="5.63" dy="2.3">4</tspan></text>
<rect x="453.9" y="369.7" width="4.8" height="49.8" fill="#000"/>
<line x1="456.5" y1="369.7" x2="456.5" y2="367.5" stroke="#000" stroke-width="1.05"/>
<line x1="455.2" y1="368.1" x2="457.8" y2="368.1" stroke="#000" stroke-width="1.2"/>
<rect x="464.8" y="352.9" width="4.8" height="66.6" fill="#000"/>
<line x1="467.5" y1="352.9" x2="467.5" y2="349.6" stroke="#000" stroke-width="1.05"/>
<line x1="466.2" y1="350.2" x2="468.8" y2="350.2" stroke="#000" stroke-width="1.2"/>
<rect x="472.1" y="369.7" width="4.8" height="49.8" fill="#000"/>
<line x1="474.5" y1="369.7" x2="474.5" y2="357.3" stroke="#000" stroke-width="1.05"/>
<line x1="473.2" y1="357.9" x2="475.8" y2="357.9" stroke="#000" stroke-width="1.2"/>
<rect x="478.7" y="396.2" width="4.8" height="23.3" fill="#000"/>
<line x1="481.5" y1="396.2" x2="481.5" y2="393.8" stroke="#000" stroke-width="1.05"/>
<line x1="480.2" y1="394.4" x2="482.8" y2="394.4" stroke="#000" stroke-width="1.2"/>
<rect x="491.1" y="358.4" width="4.8" height="61.1" fill="#000"/>
<line x1="493.5" y1="358.4" x2="493.5" y2="346.3" stroke="#000" stroke-width="1.05"/>
<line x1="492.2" y1="346.9" x2="494.8" y2="346.9" stroke="#000" stroke-width="1.2"/>
<rect x="498.3" y="394.4" width="4.8" height="25.1" fill="#000"/>
<rect x="505.6" y="414.1" width="4.8" height="5.4" fill="#000"/>
<rect x="450.6" y="342.7" width="62.8" height="76.8" fill="none" stroke="#000" stroke-width="1.2"/>
<line x1="448" y1="419.5" x2="450.6" y2="419.5" stroke="#000" stroke-width="1.15"/>
<text x="447.5" y="422.75" font-size="8.8" text-anchor="end">0</text>
<line x1="448" y1="381.1" x2="450.6" y2="381.1" stroke="#000" stroke-width="1.15"/>
<text x="447.5" y="384.35" font-size="8.8" text-anchor="end">1</text>
<line x1="448" y1="342.7" x2="450.6" y2="342.7" stroke="#000" stroke-width="1.15"/>
<text x="447.5" y="345.95" font-size="8.8" text-anchor="end">2</text>
<text x="433" y="381.1" font-size="9" text-anchor="middle" transform="rotate(-90 433 381.1)">TNF (ng/ml)</text>
<text x="458.3" y="423.7" font-size="6.9" text-anchor="end" transform="rotate(-60 458.3 423.7)">0</text>
<text x="469.4" y="423.7" font-size="6.9" text-anchor="end" transform="rotate(-60 469.4 423.7)">4</text>
<text x="477.9" y="423.7" font-size="6.9" text-anchor="end" transform="rotate(-60 477.9 423.7)">20</text>
<text x="487.7" y="423.7" font-size="6.9" text-anchor="end" transform="rotate(-60 487.7 423.7)">100</text>
<text x="497.5" y="423.7" font-size="6.9" text-anchor="end" transform="rotate(-60 497.5 423.7)">4</text>
<text x="504.7" y="423.7" font-size="6.9" text-anchor="end" transform="rotate(-60 504.7 423.7)">20</text>
<text x="514.5" y="423.7" font-size="6.9" text-anchor="end" transform="rotate(-60 514.5 423.7)">100</text>
<line x1="465.6" y1="437.8" x2="487" y2="437.8" stroke="#333" stroke-width="1.1"/>
<line x1="491.6" y1="437.8" x2="512.6" y2="437.8" stroke="#333" stroke-width="1.1"/>
<text x="477.3" y="447.1" font-size="9" text-anchor="middle">TSA</text>
<text x="502" y="447.1" font-size="9" text-anchor="middle">VPA</text>
<text x="477.3" y="458.4" font-size="9" text-anchor="middle">(nM)</text>
<text x="502" y="458.4" font-size="9" text-anchor="middle">(µM)</text>
<rect x="453.9" y="512.3" width="4.8" height="58.1" fill="#000"/>
<line x1="456.5" y1="512.3" x2="456.5" y2="505.6" stroke="#000" stroke-width="1.05"/>
<line x1="455.2" y1="506.2" x2="457.8" y2="506.2" stroke="#000" stroke-width="1.2"/>
<rect x="464.8" y="507.5" width="4.8" height="62.9" fill="#000"/>
<line x1="467.5" y1="507.5" x2="467.5" y2="497.9" stroke="#000" stroke-width="1.05"/>
<line x1="466.2" y1="498.5" x2="468.8" y2="498.5" stroke="#000" stroke-width="1.2"/>
<rect x="472.1" y="527.1" width="4.8" height="43.3" fill="#000"/>
<line x1="474.5" y1="527.1" x2="474.5" y2="523.5" stroke="#000" stroke-width="1.05"/>
<line x1="473.2" y1="524.1" x2="475.8" y2="524.1" stroke="#000" stroke-width="1.2"/>
<rect x="478.7" y="546.9" width="4.8" height="23.5" fill="#000"/>
<line x1="481.5" y1="546.9" x2="481.5" y2="543.7" stroke="#000" stroke-width="1.05"/>
<line x1="480.2" y1="544.3" x2="482.8" y2="544.3" stroke="#000" stroke-width="1.2"/>
<rect x="491.1" y="517.1" width="4.8" height="53.3" fill="#000"/>
<line x1="493.5" y1="517.1" x2="493.5" y2="509.4" stroke="#000" stroke-width="1.05"/>
<line x1="492.2" y1="510" x2="494.8" y2="510" stroke="#000" stroke-width="1.2"/>
<rect x="498.3" y="544" width="4.8" height="26.4" fill="#000"/>
<line x1="500.5" y1="544" x2="500.5" y2="541.5" stroke="#000" stroke-width="1.05"/>
<line x1="499.2" y1="542.1" x2="501.8" y2="542.1" stroke="#000" stroke-width="1.2"/>
<rect x="505.6" y="561.7" width="4.8" height="8.7" fill="#000"/>
<rect x="450.6" y="492.7" width="62.8" height="77.7" fill="none" stroke="#000" stroke-width="1.2"/>
<line x1="448" y1="570.4" x2="450.6" y2="570.4" stroke="#000" stroke-width="1.15"/>
<text x="447.5" y="573.65" font-size="8.8" text-anchor="end">0</text>
<line x1="448" y1="531.55" x2="450.6" y2="531.55" stroke="#000" stroke-width="1.15"/>
<text x="447.5" y="534.8" font-size="8.8" text-anchor="end">0.2</text>
<line x1="448" y1="492.7" x2="450.6" y2="492.7" stroke="#000" stroke-width="1.15"/>
<text x="447.5" y="495.95" font-size="8.8" text-anchor="end">0.4</text>
<text x="433" y="531.55" font-size="9" text-anchor="middle" transform="rotate(-90 433 531.55)">TNF (ng/ml)</text>
<text x="458.3" y="574.6" font-size="6.9" text-anchor="end" transform="rotate(-60 458.3 574.6)">0</text>
<text x="469.4" y="574.6" font-size="6.9" text-anchor="end" transform="rotate(-60 469.4 574.6)">4</text>
<text x="477.9" y="574.6" font-size="6.9" text-anchor="end" transform="rotate(-60 477.9 574.6)">20</text>
<text x="487.7" y="574.6" font-size="6.9" text-anchor="end" transform="rotate(-60 487.7 574.6)">100</text>
<text x="497.5" y="574.6" font-size="6.9" text-anchor="end" transform="rotate(-60 497.5 574.6)">4</text>
<text x="504.7" y="574.6" font-size="6.9" text-anchor="end" transform="rotate(-60 504.7 574.6)">20</text>
<text x="514.5" y="574.6" font-size="6.9" text-anchor="end" transform="rotate(-60 514.5 574.6)">100</text>
<line x1="465.6" y1="588.7" x2="487" y2="588.7" stroke="#333" stroke-width="1.1"/>
<line x1="491.6" y1="588.7" x2="512.6" y2="588.7" stroke="#333" stroke-width="1.1"/>
<text x="477.3" y="598" font-size="9" text-anchor="middle">TSA</text>
<text x="502" y="598" font-size="9" text-anchor="middle">VPA</text>
<text x="477.3" y="609.3" font-size="9" text-anchor="middle">(nM)</text>
<text x="502" y="609.3" font-size="9" text-anchor="middle">(µM)</text>
<rect x="199.15" y="345.15" width="6.9" height="7.65" fill="#fff" stroke="#000" stroke-width="1.1"/>
<text x="210.4" y="352.2" font-size="8.9">Medium</text>
<rect x="254.6" y="344.6" width="8" height="8.2" fill="#000"/>
<text x="265.6" y="352.2" font-size="8.9">LPS</text>
<rect x="295.15" y="345.15" width="6.9" height="7.65" fill="#ddd" stroke="#000" stroke-width="1.1"/>
<text x="306.2" y="352.2" font-size="8.9">LPS + VPA</text>
<rect x="160.35" y="414.4" width="4.5" height="107.6" fill="#000"/>
<rect x="177.85" y="450" width="4.5" height="72" fill="#000"/>
<rect x="191.05" y="456.1" width="4.3" height="65.9" fill="#000"/>
<rect x="192" y="457" width="2" height="65" fill="#fff"/>
<rect x="199.75" y="495.7" width="4.3" height="26.3" fill="#000"/>
<rect x="201" y="497" width="2" height="25" fill="#f6f6f6"/>
<rect x="195.35" y="417.9" width="4.5" height="104.1" fill="#000"/>
<rect x="208.55" y="467.2" width="4.3" height="54.8" fill="#000"/>
<rect x="210" y="468" width="2" height="54" fill="#fff"/>
<rect x="217.25" y="448.3" width="4.3" height="73.7" fill="#000"/>
<rect x="218" y="449" width="2" height="73" fill="#f6f6f6"/>
<rect x="212.85" y="399.7" width="4.5" height="122.3" fill="#000"/>
<rect x="226.05" y="453.4" width="4.3" height="68.6" fill="#000"/>
<rect x="227" y="455" width="2" height="67" fill="#fff"/>
<rect x="234.75" y="425.9" width="4.3" height="96.1" fill="#000"/>
<rect x="236" y="427" width="2" height="95" fill="#f6f6f6"/>
<rect x="230.35" y="401.3" width="4.5" height="120.7" fill="#000"/>
<rect x="243.55" y="507.5" width="4.3" height="14.5" fill="#000"/>
<rect x="245" y="509" width="2" height="13" fill="#fff"/>
<rect x="252.25" y="448.4" width="4.3" height="73.6" fill="#000"/>
<rect x="253" y="450" width="2" height="72" fill="#f6f6f6"/>
<rect x="247.85" y="416.5" width="4.5" height="105.5" fill="#000"/>
<rect x="269.75" y="422.1" width="4.3" height="99.9" fill="#000"/>
<rect x="271" y="423" width="2" height="99" fill="#f6f6f6"/>
<rect x="265.35" y="404.4" width="4.5" height="117.6" fill="#000"/>
<rect x="287.25" y="431.2" width="4.3" height="90.8" fill="#000"/>
<rect x="288" y="432" width="2" height="90" fill="#f6f6f6"/>
<rect x="282.85" y="417" width="4.5" height="105" fill="#000"/>
<rect x="296.05" y="402.2" width="4.3" height="119.8" fill="#000"/>
<rect x="297" y="403" width="2" height="119" fill="#fff"/>
<rect x="304.75" y="406.5" width="4.3" height="115.5" fill="#000"/>
<rect x="306" y="408" width="2" height="114" fill="#f6f6f6"/>
<rect x="300.35" y="393.2" width="4.5" height="128.8" fill="#000"/>
<rect x="313.55" y="485.3" width="4.3" height="36.7" fill="#000"/>
<rect x="315" y="486" width="2" height="36" fill="#fff"/>
<rect x="322.25" y="401.2" width="4.3" height="120.8" fill="#000"/>
<rect x="323" y="402" width="2" height="120" fill="#f6f6f6"/>
<rect x="317.85" y="392.3" width="4.5" height="129.7" fill="#000"/>
<rect x="339.75" y="426.4" width="4.3" height="95.6" fill="#000"/>
<rect x="341" y="428" width="2" height="94" fill="#f6f6f6"/>
<rect x="335.35" y="418.3" width="4.5" height="103.7" fill="#000"/>
<rect x="357.25" y="395.2" width="4.3" height="126.8" fill="#000"/>
<rect x="358" y="396" width="2" height="126" fill="#f6f6f6"/>
<rect x="352.85" y="387.5" width="4.5" height="134.5" fill="#000"/>
<rect x="366.05" y="491" width="4.3" height="31" fill="#000"/>
<rect x="367" y="492" width="2" height="30" fill="#fff"/>
<rect x="374.75" y="390.2" width="4.3" height="131.8" fill="#000"/>
<rect x="376" y="391" width="2" height="131" fill="#f6f6f6"/>
<rect x="370.35" y="382.8" width="4.5" height="139.2" fill="#000"/>
<rect x="383.55" y="479" width="4.3" height="43" fill="#000"/>
<rect x="385" y="480" width="2" height="42" fill="#fff"/>
<rect x="392.25" y="404.8" width="4.3" height="117.2" fill="#000"/>
<rect x="393" y="406" width="2" height="116" fill="#f6f6f6"/>
<rect x="387.85" y="404.1" width="4.5" height="117.9" fill="#000"/>
<rect x="409.75" y="413" width="4.3" height="109" fill="#000"/>
<rect x="411" y="414" width="2" height="108" fill="#f6f6f6"/>
<rect x="405.35" y="412.2" width="4.5" height="109.8" fill="#000"/>
<line x1="154.5" y1="380.6" x2="154.5" y2="433.2" stroke="#000" stroke-width="1.2"/>
<line x1="152.7" y1="380.9" x2="155" y2="380.9" stroke="#000" stroke-width="1"/>
<line x1="154" y1="432.9" x2="157.3" y2="432.9" stroke="#000" stroke-width="1"/>
<line x1="154.5" y1="443.4" x2="154.5" y2="522" stroke="#000" stroke-width="1.2"/>
<line x1="152.7" y1="443.7" x2="157.1" y2="443.7" stroke="#000" stroke-width="1"/>
<line x1="153.2" y1="409.61" x2="154.5" y2="409.61" stroke="#000" stroke-width="0.8"/>
<line x1="153.2" y1="404.47" x2="154.5" y2="404.47" stroke="#000" stroke-width="0.8"/>
<line x1="153.2" y1="400.82" x2="154.5" y2="400.82" stroke="#000" stroke-width="0.8"/>
<line x1="153.2" y1="397.99" x2="154.5" y2="397.99" stroke="#000" stroke-width="0.8"/>
<line x1="153.2" y1="395.68" x2="154.5" y2="395.68" stroke="#000" stroke-width="0.8"/>
<line x1="153.2" y1="393.72" x2="154.5" y2="393.72" stroke="#000" stroke-width="0.8"/>
<line x1="153.2" y1="392.03" x2="154.5" y2="392.03" stroke="#000" stroke-width="0.8"/>
<line x1="153.2" y1="390.54" x2="154.5" y2="390.54" stroke="#000" stroke-width="0.8"/>
<line x1="153.2" y1="430.02" x2="154.5" y2="430.02" stroke="#000" stroke-width="0.8"/>
<line x1="153.2" y1="427.19" x2="154.5" y2="427.19" stroke="#000" stroke-width="0.8"/>
<line x1="153.2" y1="424.88" x2="154.5" y2="424.88" stroke="#000" stroke-width="0.8"/>
<line x1="153.2" y1="422.92" x2="154.5" y2="422.92" stroke="#000" stroke-width="0.8"/>
<line x1="153.2" y1="421.23" x2="154.5" y2="421.23" stroke="#000" stroke-width="0.8"/>
<line x1="153.2" y1="419.74" x2="154.5" y2="419.74" stroke="#000" stroke-width="0.8"/>
<line x1="153.2" y1="449.91" x2="154.5" y2="449.91" stroke="#000" stroke-width="0.8"/>
<line x1="153.2" y1="444.41" x2="154.5" y2="444.41" stroke="#000" stroke-width="0.8"/>
<line x1="153.2" y1="481.11" x2="154.5" y2="481.11" stroke="#000" stroke-width="0.8"/>
<line x1="153.2" y1="475.61" x2="154.5" y2="475.61" stroke="#000" stroke-width="0.8"/>
<line x1="153.2" y1="471.72" x2="154.5" y2="471.72" stroke="#000" stroke-width="0.8"/>
<line x1="153.2" y1="468.69" x2="154.5" y2="468.69" stroke="#000" stroke-width="0.8"/>
<line x1="153.2" y1="466.22" x2="154.5" y2="466.22" stroke="#000" stroke-width="0.8"/>
<line x1="153.2" y1="464.13" x2="154.5" y2="464.13" stroke="#000" stroke-width="0.8"/>
<line x1="153.2" y1="462.32" x2="154.5" y2="462.32" stroke="#000" stroke-width="0.8"/>
<line x1="153.2" y1="460.73" x2="154.5" y2="460.73" stroke="#000" stroke-width="0.8"/>
<line x1="153.2" y1="512.31" x2="154.5" y2="512.31" stroke="#000" stroke-width="0.8"/>
<line x1="153.2" y1="506.81" x2="154.5" y2="506.81" stroke="#000" stroke-width="0.8"/>
<line x1="153.2" y1="502.92" x2="154.5" y2="502.92" stroke="#000" stroke-width="0.8"/>
<line x1="153.2" y1="499.89" x2="154.5" y2="499.89" stroke="#000" stroke-width="0.8"/>
<line x1="153.2" y1="497.42" x2="154.5" y2="497.42" stroke="#000" stroke-width="0.8"/>
<line x1="153.2" y1="495.33" x2="154.5" y2="495.33" stroke="#000" stroke-width="0.8"/>
<line x1="153.2" y1="493.52" x2="154.5" y2="493.52" stroke="#000" stroke-width="0.8"/>
<line x1="153.2" y1="491.93" x2="154.5" y2="491.93" stroke="#000" stroke-width="0.8"/>
<line x1="151.9" y1="389.2" x2="154.5" y2="389.2" stroke="#000" stroke-width="1"/>
<text x="149.9" y="391.9" font-size="8.6" text-anchor="end">10000</text>
<line x1="151.9" y1="418.4" x2="154.5" y2="418.4" stroke="#000" stroke-width="1"/>
<text x="149.9" y="421.1" font-size="8.6" text-anchor="end">1000</text>
<line x1="151.9" y1="459.3" x2="154.5" y2="459.3" stroke="#000" stroke-width="1"/>
<text x="149.9" y="462" font-size="8.6" text-anchor="end">100</text>
<line x1="151.9" y1="490.5" x2="154.5" y2="490.5" stroke="#000" stroke-width="1"/>
<text x="149.9" y="493.2" font-size="8.6" text-anchor="end">10</text>
<line x1="151.9" y1="521.7" x2="154.5" y2="521.7" stroke="#000" stroke-width="1"/>
<text x="149.9" y="524.4" font-size="8.6" text-anchor="end">1</text>
<text x="126.6" y="459.3" font-size="8.8" text-anchor="middle" transform="rotate(-90 126.6 459.3)">ng/ml</text>
<line x1="154" y1="522" x2="416.75" y2="522" stroke="#000" stroke-width="1.2"/>
<text x="101.8" y="524.4" font-size="8.7">LPS/</text>
<text x="101.8" y="535.3" font-size="8.7">LPS+VPA</text>
<text x="162.8" y="533.9" font-size="8.9" text-anchor="middle" fill="#222" style="stroke-width:0.1px">&gt;50</text>
<line x1="171.25" y1="522" x2="171.25" y2="537.5" stroke="#000" stroke-width="0.9"/>
<polyline points="171.25,537.5 143.9,568.31" fill="none" stroke="#000" stroke-width="0.9"/>
<text x="161.04" y="544.48" font-size="9" text-anchor="end" font-weight="bold" transform="rotate(-46.5 161.04 544.48)" fill="#000">IL-12p40</text>
<text x="180.3" y="533.9" font-size="8.9" text-anchor="middle" fill="#222" style="stroke-width:0.1px">&gt;50</text>
<line x1="188.75" y1="522" x2="188.75" y2="537.5" stroke="#000" stroke-width="0.9"/>
<polyline points="188.75,537.5 161.4,568.31" fill="none" stroke="#000" stroke-width="0.9"/>
<text x="178.54" y="544.48" font-size="9" text-anchor="end" font-weight="bold" transform="rotate(-46.5 178.54 544.48)" fill="#000">IL-1α</text>
<text x="197.8" y="533.9" font-size="8.9" text-anchor="middle" fill="#222" style="stroke-width:0.1px">&gt;50</text>
<line x1="206.25" y1="522" x2="206.25" y2="537.5" stroke="#000" stroke-width="0.9"/>
<polyline points="206.25,537.5 178.9,568.31" fill="none" stroke="#000" stroke-width="0.9"/>
<text x="196.04" y="544.48" font-size="9" text-anchor="end" font-weight="bold" transform="rotate(-46.5 196.04 544.48)" fill="#000">sCD40L</text>
<text x="215.3" y="533.9" font-size="8.9" text-anchor="middle" fill="#222" style="stroke-width:0.1px">19</text>
<line x1="223.75" y1="522" x2="223.75" y2="537.5" stroke="#000" stroke-width="0.9"/>
<polyline points="223.75,537.5 196.4,568.31" fill="none" stroke="#000" stroke-width="0.9"/>
<text x="213.54" y="544.48" font-size="9" text-anchor="end" font-weight="bold" transform="rotate(-46.5 213.54 544.48)" fill="#000">IP-10</text>
<text x="232.8" y="533.9" font-size="8.9" text-anchor="middle" fill="#222" style="stroke-width:0.1px">6.7</text>
<line x1="241.25" y1="522" x2="241.25" y2="537.5" stroke="#000" stroke-width="0.9"/>
<polyline points="241.25,537.5 213.9,568.31" fill="none" stroke="#000" stroke-width="0.9"/>
<text x="231.04" y="544.48" font-size="9" text-anchor="end" font-weight="bold" transform="rotate(-46.5 231.04 544.48)" fill="#000">MCP-1</text>
<text x="250.3" y="533.9" font-size="8.9" text-anchor="middle" fill="#222" style="stroke-width:0.1px">5.3</text>
<line x1="258.75" y1="522" x2="258.75" y2="537.5" stroke="#000" stroke-width="0.9"/>
<polyline points="258.75,537.5 231.4,568.31" fill="none" stroke="#000" stroke-width="0.9"/>
<text x="248.54" y="544.48" font-size="9" text-anchor="end" font-weight="bold" transform="rotate(-46.5 248.54 544.48)" fill="#000">IL-1β</text>
<text x="267.8" y="533.9" font-size="8.9" text-anchor="middle" fill="#222" style="stroke-width:0.1px">4.1</text>
<line x1="276.25" y1="522" x2="276.25" y2="537.5" stroke="#000" stroke-width="0.9"/>
<polyline points="276.25,537.5 248.9,568.31" fill="none" stroke="#000" stroke-width="0.9"/>
<text x="266.04" y="544.48" font-size="9" text-anchor="end" font-weight="bold" transform="rotate(-46.5 266.04 544.48)" fill="#000">TNF</text>
<text x="285.3" y="533.9" font-size="8.9" text-anchor="middle" fill="#222" style="stroke-width:0.1px">3.1</text>
<line x1="293.75" y1="522" x2="293.75" y2="537.5" stroke="#000" stroke-width="0.9"/>
<polyline points="293.75,537.5 266.4,568.31" fill="none" stroke="#000" stroke-width="0.9"/>
<text x="283.54" y="544.48" font-size="9" text-anchor="end" font-weight="bold" transform="rotate(-46.5 283.54 544.48)" fill="#000">IL-10</text>
<text x="302.8" y="533.9" font-size="8.9" text-anchor="middle" fill="#222" style="stroke-width:0.1px">2.8</text>
<line x1="311.25" y1="522" x2="311.25" y2="537.5" stroke="#000" stroke-width="0.9"/>
<polyline points="311.25,537.5 283.9,568.31" fill="none" stroke="#000" stroke-width="0.9"/>
<text x="301.04" y="544.48" font-size="9" text-anchor="end" font-weight="bold" transform="rotate(-46.5 301.04 544.48)" fill="#000">RANTES</text>
<text x="320.3" y="533.9" font-size="8.9" text-anchor="middle" fill="#222" style="stroke-width:0.1px">1.9</text>
<line x1="328.75" y1="522" x2="328.75" y2="537.5" stroke="#000" stroke-width="0.9"/>
<polyline points="328.75,537.5 301.4,568.31" fill="none" stroke="#000" stroke-width="0.9"/>
<text x="318.54" y="544.48" font-size="9" text-anchor="end" font-weight="bold" transform="rotate(-46.5 318.54 544.48)" fill="#000">MIP-1β</text>
<text x="337.8" y="533.9" font-size="8.9" text-anchor="middle" fill="#222" style="stroke-width:0.1px">1.9</text>
<line x1="346.25" y1="522" x2="346.25" y2="537.5" stroke="#000" stroke-width="0.9"/>
<polyline points="346.25,537.5 318.9,568.31" fill="none" stroke="#000" stroke-width="0.9"/>
<text x="336.04" y="544.48" font-size="9" text-anchor="end" font-weight="bold" transform="rotate(-46.5 336.04 544.48)" fill="#000">IL-1ra</text>
<text x="355.3" y="533.9" font-size="8.9" text-anchor="middle" fill="#222" style="stroke-width:0.1px">1.8</text>
<line x1="363.75" y1="522" x2="363.75" y2="537.5" stroke="#000" stroke-width="0.9"/>
<polyline points="363.75,537.5 336.4,568.31" fill="none" stroke="#000" stroke-width="0.9"/>
<text x="353.54" y="544.48" font-size="9" text-anchor="end" font-weight="bold" transform="rotate(-46.5 353.54 544.48)" fill="#000">MIP-1α</text>
<text x="372.8" y="533.9" font-size="8.9" text-anchor="middle" fill="#222" style="stroke-width:0.1px">1.8</text>
<line x1="381.25" y1="522" x2="381.25" y2="537.5" stroke="#000" stroke-width="0.9"/>
<polyline points="381.25,537.5 353.9,568.31" fill="none" stroke="#000" stroke-width="0.9"/>
<text x="371.04" y="544.48" font-size="9" text-anchor="end" font-weight="bold" transform="rotate(-46.5 371.04 544.48)" fill="#000">IL-6</text>
<text x="390.3" y="533.9" font-size="8.9" text-anchor="middle" fill="#222" style="stroke-width:0.1px">1</text>
<line x1="398.75" y1="522" x2="398.75" y2="537.5" stroke="#000" stroke-width="0.9"/>
<polyline points="398.75,537.5 371.4,568.31" fill="none" stroke="#000" stroke-width="0.9"/>
<text x="388.54" y="544.48" font-size="9" text-anchor="end" font-weight="bold" transform="rotate(-46.5 388.54 544.48)" fill="#000">IL-8</text>
<text x="407.8" y="533.9" font-size="8.9" text-anchor="middle" fill="#222" style="stroke-width:0.1px">1</text>
<line x1="416.25" y1="522" x2="416.25" y2="537.5" stroke="#000" stroke-width="0.9"/>
<polyline points="416.25,537.5 388.9,568.31" fill="none" stroke="#000" stroke-width="0.9"/>
<text x="406.04" y="544.48" font-size="9" text-anchor="end" font-weight="bold" transform="rotate(-46.5 406.04 544.48)" fill="#000">G-CSF</text>
</svg>
</body></html>
